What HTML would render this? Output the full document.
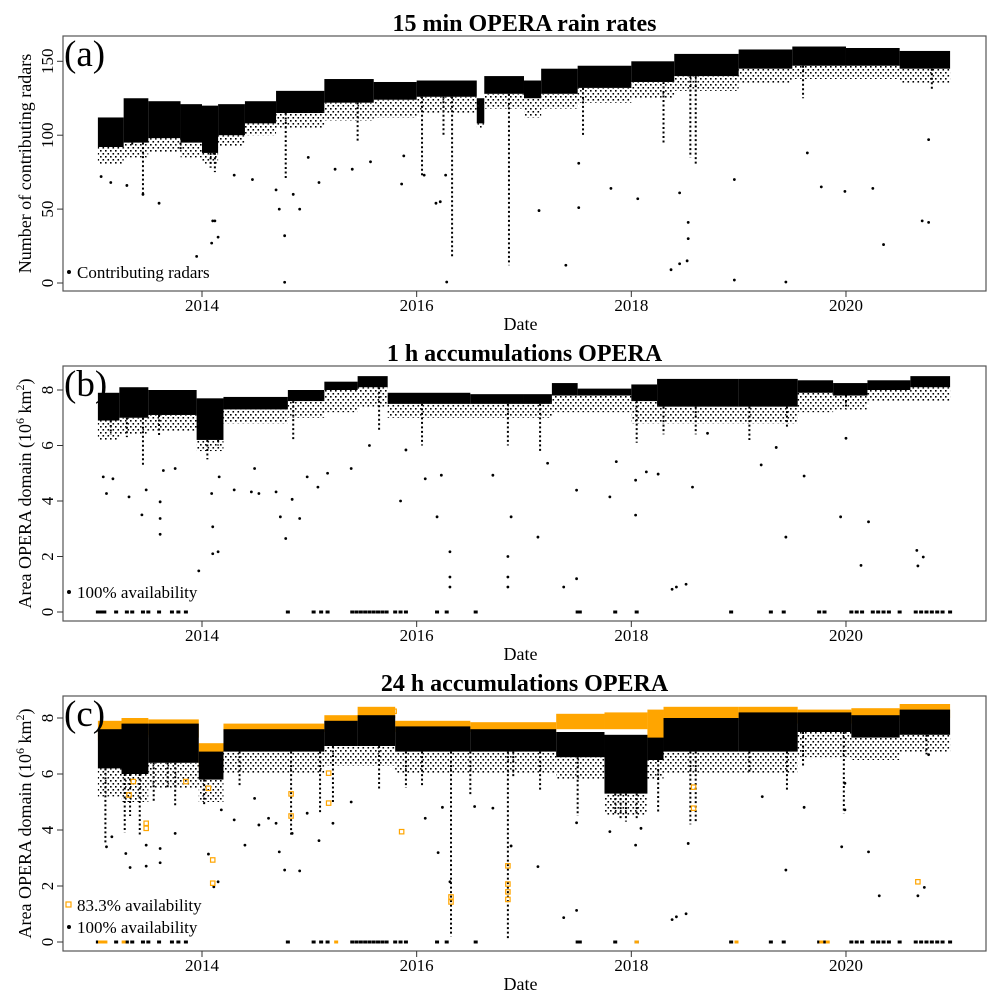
<!DOCTYPE html>
<html><head><meta charset="utf-8">
<style>
html,body{margin:0;padding:0;background:#fff;}
svg{display:block;font-family:"Liberation Serif",serif;}
</style></head>
<body>
<svg id="chart" width="999" height="1003" viewBox="0 0 999 1003" xmlns="http://www.w3.org/2000/svg">
<defs>
<pattern id="dots" width="5" height="6" patternUnits="userSpaceOnUse">
<rect x="0" y="0" width="1.6" height="1.6" fill="#000"/>
<rect x="2.5" y="3" width="1.6" height="1.6" fill="#000"/>
</pattern>
</defs>
</svg>
<script>
// ---------- data (years as decimal dates) ----------
const aBandDates = [2013.03,2013.27,2013.5,2013.8,2014.0,2014.15,2014.4,2014.69,2015.14,2015.6,2016.0,2016.56,2016.63,2017.0,2017.16,2017.5,2018.0,2018.4,2019.0,2019.5,2020.0,2020.5,2020.97];
const aBandTop =    [112,125,123,121,120,121,123,130,138,136,137,125,140,137,145,147,150,155,158,160,159,157];
const aBandBottom = [92,95,98,95,88,100,108,115,122,124,126,108,128,125,128,132,136,140,145,147,147,145];
const aFringe =     [80,85,88,85,80,92,100,105,110,112,115,105,118,112,118,122,125,130,135,138,138,135];
const aSpikeDates = [2013.45,2013.35,2013.8,2014.08,2014.12,2014.78,2015.45,2016.05,2016.25,2016.33,2016.86,2017.55,2018.3,2018.55,2018.6,2019.6,2020.8];
const aSpikeLows =  [60,92,90,78,75,70,95,72,100,17,12,100,95,85,80,125,130];
const aPtDates = [2013.06,2013.15,2013.3,2013.45,2013.6,2013.95,2014.09,2014.1,2014.12,2014.15,2014.3,2014.47,2014.69,2014.72,2014.77,2014.77,2014.85,2014.91,2014.99,2015.09,2015.24,2015.4,2015.57,2015.86,2015.88,2016.07,2016.18,2016.22,2016.27,2016.28,2017.14,2017.39,2017.51,2017.51,2017.81,2018.06,2018.37,2018.45,2018.45,2018.52,2018.53,2018.53,2018.96,2018.96,2019.44,2019.64,2019.77,2019.99,2020.25,2020.35,2020.71,2020.77,2020.77];
const aPtVals  = [72,68,66,60,54,18,27,42,42,31,73,70,63,50,32,0.5,60,50,85,68,77,77,82,67,86,73,54,55,73,0.7,49,12,81,51,64,57,9,61,13,15,30,41,70,2,0.7,88,65,62,64,26,42,41,97];

const bBandDates = [2013.03,2013.23,2013.5,2013.95,2014.2,2014.8,2015.14,2015.45,2015.73,2016.5,2017.0,2017.26,2017.5,2018.0,2018.24,2019.0,2019.55,2019.88,2020.2,2020.6,2020.97];
const bBandTop =    [7.9,8.1,8.0,7.7,7.75,8.0,8.3,8.5,7.9,7.85,7.85,8.25,8.05,8.2,8.4,8.4,8.35,8.25,8.35,8.5];
const bBandBottom = [6.9,7.0,7.1,6.2,7.3,7.6,8.0,8.1,7.5,7.5,7.5,7.8,7.8,7.6,7.4,7.4,7.9,7.8,8.0,8.1];
const bFringe =     [6.2,6.4,6.5,5.8,6.8,7.0,7.2,7.4,7.0,7.0,7.0,7.2,7.2,6.8,6.8,6.8,7.2,7.3,7.6,7.6];
const bSpikeDates = [2013.15,2013.3,2013.45,2013.6,2014.05,2014.15,2014.85,2015.65,2016.05,2016.85,2017.15,2018.05,2018.3,2018.6,2019.1,2019.45,2020.0];
const bSpikeLows =  [6.4,6.3,5.3,6.3,5.5,6.0,6.2,6.5,6.0,6.0,5.8,6.1,6.4,6.4,6.2,6.6,7.3];
const bPtDates = [2013.08,2013.11,2013.17,2013.32,2013.44,2013.48,2013.61,2013.61,2013.61,2013.64,2013.75,2013.97,2014.09,2014.1,2014.1,2014.15,2014.16,2014.3,2014.46,2014.49,2014.53,2014.69,2014.73,2014.78,2014.84,2014.91,2014.98,2015.08,2015.17,2015.39,2015.56,2015.85,2015.9,2016.08,2016.19,2016.23,2016.31,2016.31,2016.31,2016.71,2016.85,2016.85,2016.85,2016.88,2017.13,2017.22,2017.37,2017.49,2017.49,2017.8,2017.86,2018.04,2018.04,2018.14,2018.25,2018.38,2018.42,2018.51,2018.57,2018.71,2019.21,2019.35,2019.44,2019.61,2019.95,2020.0,2020.14,2020.21,2020.66,2020.67,2020.72];
const bPtVals  = [4.87,4.27,4.8,4.15,3.5,4.4,2.8,3.37,3.97,5.1,5.17,1.48,4.27,3.07,2.1,2.17,4.87,4.4,4.33,5.17,4.27,4.33,3.43,2.65,4.06,3.37,4.87,4.5,5.0,5.17,6.0,4.0,5.84,4.8,3.43,4.93,2.17,0.9,1.26,4.93,2.0,1.26,0.9,3.43,2.7,5.36,0.9,1.2,4.39,4.15,5.42,3.49,4.75,5.05,4.97,0.82,0.9,1.0,4.5,6.44,5.3,5.93,2.7,4.9,3.43,6.26,1.68,3.25,2.22,1.66,1.98];
const bZeroDates = [2013.03,2013.05,2013.07,2013.09,2013.2,2013.3,2013.35,2013.45,2013.5,2013.6,2013.72,2013.78,2013.85,2014.8,2015.04,2015.11,2015.17,2015.4,2015.44,2015.48,2015.52,2015.56,2015.6,2015.64,2015.68,2015.72,2015.8,2015.85,2015.9,2016.19,2016.28,2016.55,2017.5,2017.52,2017.85,2018.05,2018.93,2019.3,2019.42,2019.75,2019.8,2020.05,2020.1,2020.15,2020.25,2020.3,2020.35,2020.4,2020.5,2020.65,2020.7,2020.75,2020.8,2020.85,2020.9,2020.97];

const cBandDates = [2013.03,2013.25,2013.5,2013.97,2014.2,2015.14,2015.45,2015.8,2016.5,2017.3,2017.75,2018.15,2018.3,2019.0,2019.55,2020.05,2020.5,2020.97];
const cBlackTop =    [7.6,7.8,7.8,6.8,7.6,7.9,8.1,7.7,7.6,7.5,7.4,7.3,8.0,8.2,8.2,8.1,8.3];
const cBlackBottom = [6.2,6.0,6.4,5.8,6.8,7.0,7.0,6.8,6.8,6.6,5.3,6.5,6.8,6.8,7.5,7.3,7.4];
const cFringe =      [5.2,5.0,5.5,5.0,6.0,6.3,6.3,6.0,6.0,5.8,4.5,5.8,6.0,6.0,6.6,6.5,6.8];
const cOrangeTop =    [7.9,8.0,7.95,7.1,7.8,8.1,8.4,7.9,7.85,8.15,8.2,8.3,8.4,8.4,8.3,8.35,8.5];
const cOrangeBottom = [7.2,7.4,7.3,6.2,7.5,7.8,8.0,7.5,7.5,7.6,7.6,7.0,7.9,8.0,7.8,7.9,8.0];
const cSpikeDates = [2013.1,2013.28,2013.33,2013.42,2013.55,2013.68,2013.75,2014.02,2014.35,2014.83,2015.1,2015.22,2015.65,2015.9,2016.05,2016.5,2016.9,2017.15,2017.5,2017.85,2017.9,2017.95,2018.05,2018.25,2018.55,2018.6,2019.1,2019.45,2019.6,2019.98,2020.75,2016.32,2016.85];
const cSpikeLows =  [3.5,3.9,4.5,3.8,5.0,5.5,4.8,4.9,5.6,3.8,4.6,5.0,5.4,5.5,5.6,5.2,5.9,5.4,4.5,4.6,4.4,4.3,4.4,4.6,4.2,4.3,6.0,5.4,6.3,4.6,6.7,0.2,0.1];
const cPtDates = [2013.11,2013.16,2013.29,2013.33,2013.48,2013.48,2013.61,2013.61,2013.75,2014.06,2014.11,2014.15,2014.18,2014.3,2014.4,2014.49,2014.53,2014.62,2014.69,2014.72,2014.77,2014.84,2014.91,2014.98,2015.09,2015.22,2015.39,2016.08,2016.2,2016.24,2016.31,2016.54,2016.71,2016.88,2017.13,2017.37,2017.49,2017.49,2017.8,2018.04,2018.09,2018.38,2018.42,2018.51,2018.53,2019.22,2019.44,2019.61,2019.96,2019.99,2019.99,2020.21,2020.31,2020.67,2020.73,2020.77];
const cPtVals  = [3.4,3.76,3.16,2.66,2.71,3.46,3.34,2.83,3.88,3.14,1.97,2.15,4.72,4.36,3.46,5.13,4.18,4.42,4.24,3.22,2.57,3.88,2.54,4.6,3.62,4.24,5.0,4.42,3.19,4.81,2.15,4.84,4.78,3.43,2.69,0.87,1.13,4.26,3.94,3.46,4.06,0.8,0.9,1.01,3.52,5.19,2.57,4.81,3.4,4.72,5.67,3.22,1.65,1.65,1.95,6.69];
const cOrDates = [2014.1,2014.1,2013.48,2013.48,2013.85,2014.83,2014.83,2015.18,2015.18,2015.86,2016.32,2016.32,2016.85,2016.85,2016.85,2016.85,2018.58,2018.58,2020.67,2014.06,2013.32,2013.36,2015.79];
const cOrVals  = [2.93,2.1,4.24,4.06,5.73,5.29,4.5,4.96,6.03,3.94,1.61,1.43,2.72,2.07,1.79,1.52,5.53,4.78,2.15,5.49,5.25,5.73,8.24];
const cOrZeroDates = [2013.05,2013.08,2013.1,2013.27,2015.25,2018.05,2018.98,2019.77,2019.83];

const xTicks = [2014,2016,2018,2020];
const xTickLabels = ["2014","2016","2018","2020"];

// ---------- drawing ----------
const NS = "http://www.w3.org/2000/svg";
const svg = document.getElementById('chart');
function mk(tag, attrs, parent){
  const e = document.createElementNS(NS, tag);
  for (const k in attrs) e.setAttribute(k, attrs[k]);
  (parent||svg).appendChild(e);
  return e;
}
const BOX_L = 63, BOX_R = 986;
function xScale(yr){ return 202 + (yr - 2014) * 107.33; }

function panel(cfg){
  const g = mk('g', {});
  
  
  const yS = v => cfg.y0 + (cfg.y1 - cfg.y0) * v / cfg.vTop;
  const t = mk('text', {x: (BOX_L+BOX_R)/2, y: cfg.top - 5, 'text-anchor':'middle', 'font-size':'24', 'font-weight':'bold'}, g);
  t.textContent = cfg.title;
  
  
  const plot = mk('g', {}, g);
  
  
  cfg.draw(plot, yS);
  const box = mk('rect', {x: BOX_L, y: cfg.top, width: BOX_R-BOX_L, height: cfg.bottom-cfg.top, fill:'none', stroke:'#555', 'stroke-width':'1.2'}, g);
  
  
  const pl = mk('text', {x: BOX_L+1, y: cfg.top+30, 'font-size':'37'}, g);
  pl.textContent = cfg.letter;
  
  
  cfg.yTicks.forEach((v,i) => {
    const yy = yS(v);
    const tk = mk('line', {x1: BOX_L-6, x2: BOX_L, y1: yy, y2: yy, stroke:'#333'}, g);
    
    
    const tl = mk('text', {x: 0, y: 0, 'font-size':'17', 'text-anchor':'middle', transform:`translate(${BOX_L-10},${yy}) rotate(-90)`}, g);
    tl.textContent = cfg.yTickLabels[i];
    
    
  });
  xTicks.forEach((v,i) => {
    const xx = xScale(v);
    const tk = mk('line', {x1: xx, x2: xx, y1: cfg.bottom, y2: cfg.bottom+6, stroke:'#333'}, g);
    
    
    const tl = mk('text', {x: xx, y: cfg.bottom+20, 'font-size':'17', 'text-anchor':'middle'}, g);
    tl.textContent = xTickLabels[i];
    
    
  });
  const xt = mk('text', {x: (BOX_L+BOX_R)/2 - 4, y: cfg.bottom+39, 'font-size':'18', 'text-anchor':'middle'}, g);
  xt.textContent = 'Date';
  
  
  const yt = mk('text', {x:0, y:0, 'font-size':'18', 'text-anchor':'middle', transform:`translate(${BOX_L-32},${(cfg.top+cfg.bottom)/2}) rotate(-90)`}, g);
  
  
  if (cfg.area){
    yt.appendChild(document.createTextNode('Area OPERA domain (10'));
    const s1 = mk('tspan', {'baseline-shift':'super','font-size':'12'}, yt); s1.textContent='6';
    const s2 = mk('tspan', {}, yt); s2.textContent=' km';
    const s3 = mk('tspan', {'baseline-shift':'super','font-size':'12'}, yt); s3.textContent='2';
    const s4 = mk('tspan', {}, yt); s4.textContent=')';
  } else yt.textContent = cfg.ylab;
  cfg.legend.forEach((L) => {
    const ly = L.y;
    const lg = mk('g', {}, g);
    
    
    if (L.square) mk('rect', {x: BOX_L+3, y: ly-9, width:5, height:5, fill:'none', stroke:'#FFA500', 'stroke-width':'1.2'}, lg);
    else mk('circle', {cx: BOX_L+6, cy: ly-6, r:2, fill:'#000'}, lg);
    const lt = mk('text', {x: BOX_L+14, y: ly, 'font-size':'17'}, lg);
    lt.textContent = L.text;
  });
}

function drawBand(p, yS, dates, tops, bots, color, name){
  for (let i=0;i<tops.length;i++){
    const x1 = xScale(dates[i]), x2 = xScale(dates[i+1]);
    const r = mk('rect', {x:x1, y:yS(tops[i]), width: Math.max(1,x2-x1), height: Math.max(1,yS(bots[i])-yS(tops[i])), fill: color}, p);
    
    
  }
}
function drawFringe(p, yS, dates, bots, lows){
  for (let i=0;i<bots.length;i++){
    const x1 = xScale(dates[i]), x2 = xScale(dates[i+1]);
    const r = mk('rect', {x:x1, y:yS(bots[i]), width: Math.max(1,x2-x1), height: Math.max(0,yS(lows[i])-yS(bots[i])), fill: 'url(#dots)'}, p);
    
    
  }
}
function drawSpikes(p, yS, dates, lows, bandDates, bandBots){
  dates.forEach((d,i) => {
    let k = 0; while (k < bandBots.length-1 && bandDates[k+1] <= d) k++;
    const yTop = yS(bandBots[k]), yLow = yS(lows[i]);
    const ln = mk('line', {x1: xScale(d), x2: xScale(d), y1: yTop, y2: yLow, stroke:'#000', 'stroke-width':'2', 'stroke-dasharray':'2 2.5'}, p);
    
    
  });
}
function drawPts(p, yS, dates, vals){
  dates.forEach((d,i) => {
    const c = mk('circle', {cx: xScale(d), cy: yS(vals[i]), r:1.4, fill:'#000'}, p);
    
    
  });
}
function drawSq(p, yS, dates, vals){
  dates.forEach((d,i) => {
    const c = mk('rect', {x: xScale(d)-2.2, y: yS(vals[i])-2.2, width:4.4, height:4.4, fill:'none', stroke:'#FFA500', 'stroke-width':'1.2'}, p);
    
    
  });
}
function drawZeros(p, yS, dates, color){
  dates.forEach(d => {
    const r = mk('rect', {x: xScale(d)-2, y: yS(0)-1.5, width:4, height:3, fill:color}, p);
    
    
  });
}

panel({name:'panel-a-rain-rates', title:'15 min OPERA rain rates', letter:'(a)', top:36, bottom:291, y0:283, y1:61.3, vTop:150,
  yTicks:[0,50,100,150], yTickLabels:['0','50','100','150'], ylab:'Number of contributing radars',
  legend:[{y:278, text:'Contributing radars'}],
  draw:(p,yS)=>{ drawFringe(p,yS,aBandDates,aBandBottom,aFringe);
    drawBand(p,yS,aBandDates,aBandTop,aBandBottom,'#000','radar-band');
    drawSpikes(p,yS,aSpikeDates,aSpikeLows,aBandDates,aBandBottom); drawPts(p,yS,aPtDates,aPtVals); }});

panel({name:'panel-b-1h', title:'1 h accumulations OPERA', letter:'(b)', top:366, bottom:621, y0:612, y1:390, vTop:8, area:true,
  yTicks:[0,2,4,6,8], yTickLabels:['0','2','4','6','8'],
  legend:[{y:598, text:'100% availability'}],
  draw:(p,yS)=>{ drawFringe(p,yS,bBandDates,bBandBottom,bFringe);
    drawBand(p,yS,bBandDates,bBandTop,bBandBottom,'#000','area-band');
    drawSpikes(p,yS,bSpikeDates,bSpikeLows,bBandDates,bBandBottom); drawPts(p,yS,bPtDates,bPtVals); drawZeros(p,yS,bZeroDates,'#000'); }});

panel({name:'panel-c-24h', title:'24 h accumulations OPERA', letter:'(c)', top:696, bottom:951, y0:942, y1:718, vTop:8, area:true,
  yTicks:[0,2,4,6,8], yTickLabels:['0','2','4','6','8'],
  legend:[{y:911, text:'83.3% availability', square:true},{y:933, text:'100% availability'}],
  draw:(p,yS)=>{ drawBand(p,yS,cBandDates,cOrangeTop,cOrangeBottom,'#FFA500','orange-band');
    drawFringe(p,yS,cBandDates,cBlackBottom,cFringe);
    drawBand(p,yS,cBandDates,cBlackTop,cBlackBottom,'#000','black-band');
    drawSpikes(p,yS,cSpikeDates,cSpikeLows,cBandDates,cBlackBottom); drawPts(p,yS,cPtDates,cPtVals);
    drawSq(p,yS,cOrDates,cOrVals); drawZeros(p,yS,bZeroDates,'#000'); drawZeros(p,yS,cOrZeroDates,'#FFA500'); }});
</script>
</body></html>
